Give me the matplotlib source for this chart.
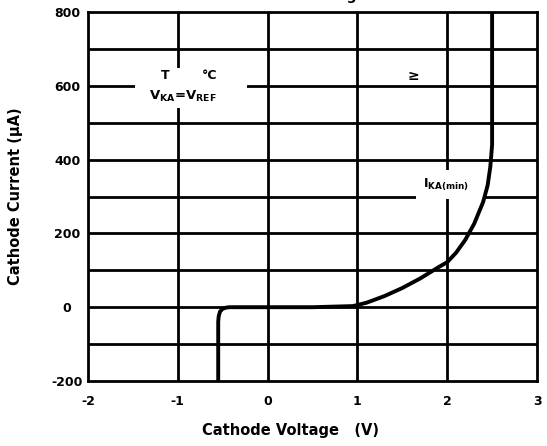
import matplotlib
matplotlib.use("Agg")
import matplotlib.pyplot as plt
from matplotlib.patches import Rectangle

plt.rcParams['font.family'] = ['DejaVu Sans']
plt.rcParams['font.weight'] = 'bold'
plt.rcParams['mathtext.default'] = 'regular'
plt.rcParams['axes.unicode_minus'] = False

# Data
voltage = [-0.55, -0.55, -0.545, -0.53, -0.50, -0.46, -0.42, 0.0, 0.5, 0.95,
           1.1, 1.3, 1.5, 1.7, 1.9, 2.0, 2.1, 2.2, 2.3, 2.4, 2.45, 2.48, 2.5, 2.5]
current = [-200, -40, -25, -12, -4, -1, 0, 0, 0, 3,
           12, 30, 52, 78, 108, 122, 148, 182, 226, 285, 330, 380, 440, 800]

x_ticks = [-2, -1, 0, 1, 2, 3]
y_ticks = [-200, 0, 200, 400, 600, 800]
y_grid = [-100, 0, 100, 200, 300, 400, 500, 600, 700]

fig = plt.figure(figsize=(5.47, 4.46), dpi=100)
ax = fig.add_axes([88/547, 1-381/446, (537-88)/547, (381-12)/446])
ax.set_xlim(-2, 3)
ax.set_ylim(-200, 800)

for xv in x_ticks[1:-1]:
    ax.axvline(xv, color='black', lw=2.0, zorder=1)
for yv in y_grid:
    ax.axhline(yv, color='black', lw=2.0, zorder=1)

for s in ax.spines.values():
    s.set_linewidth(2.0)
    s.set_zorder(5)

# white boxes behind annotations
ax.add_patch(Rectangle((-1.48, 541), 1.25, 108, facecolor='white', edgecolor='none', zorder=2))
ax.add_patch(Rectangle((1.65, 292), 0.75, 80, facecolor='white', edgecolor='none', zorder=2))

ax.plot(voltage, current, color='black', lw=2.8, zorder=4, solid_capstyle='butt')

ax.set_xticks(x_ticks)
ax.set_yticks(y_ticks)
ax.tick_params(length=0, labelsize=9)
ax.tick_params(axis='x', pad=10)
ax.tick_params(axis='y', pad=15)
for lab in ax.get_yticklabels():
    lab.set_ha('center')
    lab.set_fontweight('bold')
for lab in ax.get_xticklabels():
    lab.set_fontweight('bold')

ax.text(-1.14, 627, 'T', ha='center', va='center', fontsize=9, fontweight='bold', zorder=6)
ax.text(-0.65, 627, '°C', ha='center', va='center', fontsize=9, fontweight='bold', zorder=6)
ax.text(-0.94, 571, r'V$_{\mathbf{KA}}$=V$_{\mathbf{REF}}$', ha='center', va='center',
        fontsize=9.5, fontweight='bold', zorder=6)
ax.text(1.62, 627, '≥', ha='center', va='center', fontsize=10, fontweight='bold', zorder=6)
ax.text(1.99, 332, r'I$_{\mathbf{KA(min)}}$', ha='center', va='center', fontsize=9,
        fontweight='bold', zorder=6)

ax.set_xlabel('Cathode Voltage   (V)', fontsize=10.5, fontweight='bold')
ax.xaxis.set_label_coords((290-88)/(537-88), -(423-381)/(381-12))
ax.set_ylabel('Cathode Current (μA)', fontsize=10.5, fontweight='bold')
ax.yaxis.set_label_coords(-(88-23)/(537-88), 0.5)

fig.text(290/547, 1-3/446, 'vs Cathode Voltage', ha='center', va='bottom',
         fontsize=10, fontweight='bold')

fig.savefig('out.png', dpi=100)
